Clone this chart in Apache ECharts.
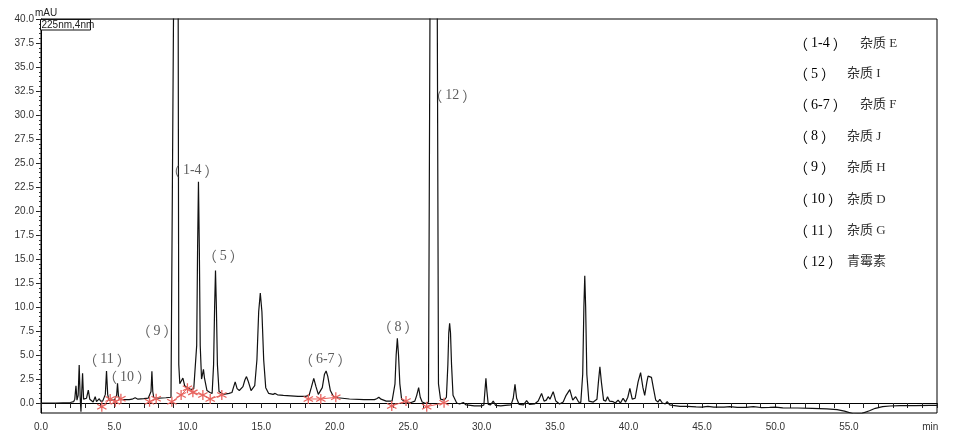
<!DOCTYPE html>
<html><head><meta charset="utf-8">
<script src="https://cdn.jsdelivr.net/npm/echarts@6/dist/echarts.min.js"></script>
<style>html,body{margin:0;padding:0;background:#fff}#c{width:954px;height:446px}</style>
</head><body><div id="c"></div>
<script>
// chromatogram trace: [time (min), signal (mAU)]
const trace = [
[0,0.0],[1.0,0.0],[2.0,0.05],[2.22,0.14],[2.3,0.4],[2.38,1.8],[2.45,0.3],[2.53,0.8],[2.6,3.95],[2.67,0.5],[2.72,-0.9],[2.77,1.0],[2.83,3.1],[2.9,0.4],[3.0,0.6],[3.1,0.5],[3.22,1.35],[3.32,0.4],[3.45,0.3],[3.55,0.1],[3.69,0.65],[3.78,0.15],[3.9,0.2],[3.97,0.45],[4.05,0.2],[4.2,0.2],
[4.3,0.25],[4.38,0.9],[4.46,3.33],[4.54,0.9],[4.62,0.3],[4.8,0.3],[5.0,0.3],
[5.08,0.3],[5.15,0.8],[5.21,2.05],[5.27,0.8],[5.35,0.35],[5.6,0.35],[6.0,0.35],[6.2,0.4],[6.41,0.55],[6.6,0.4],[7.0,0.45],[7.3,0.5],
[7.42,0.5],[7.49,1.2],[7.55,3.3],[7.61,1.2],[7.68,0.55],[8.0,0.5],[8.5,0.55],[8.85,0.6],
[8.93,0.8],[9.02,40],[9.18,200],[9.34,40],[9.38,4.0],[9.45,2.0],[9.55,2.0],[9.66,2.6],[9.78,1.8],[9.95,1.6],[10.2,1.4],[10.4,1.5],
[10.5,1.6],[10.6,6],[10.66,16],[10.72,23.05],[10.78,16],[10.84,6],[10.93,2.5],[11.0,3.0],[11.06,3.5],[11.13,2.6],[11.3,1.3],[11.5,1.1],
[11.65,1.0],[11.75,4],[11.82,10],[11.88,13.8],[11.94,10],[12.01,4],[12.12,1.2],[12.4,0.9],[12.8,1.0],
[13.0,1.1],[13.1,1.6],[13.22,2.2],[13.35,1.5],[13.5,1.3],[13.75,1.7],[13.88,2.4],[13.99,2.75],[14.1,2.3],[14.3,1.3],
[14.55,1.8],[14.7,4.5],[14.82,9.5],[14.93,11.46],[15.04,9.5],[15.16,4.5],[15.3,1.6],[15.5,1.0],[15.8,0.9],[15.94,1.0],[16.1,0.85],[16.5,0.8],[17.0,0.75],[17.5,0.7],[18.0,0.7],
[18.25,0.8],[18.4,1.6],[18.57,2.57],[18.72,1.7],[18.88,0.9],[19.0,0.9],[19.15,1.6],[19.3,3.0],[19.41,3.33],[19.52,2.8],[19.7,1.3],[19.9,0.7],[20.2,0.55],
[21.0,0.42],[22.0,0.35],[22.7,0.35],[22.85,0.45],[23.0,0.6],[23.15,0.4],[23.5,0.2],[23.9,0.2],
[24.0,0.4],[24.1,2.0],[24.18,5.0],[24.26,6.73],[24.34,5.0],[24.43,2.0],[24.55,0.4],[24.8,0.1],[25.2,0.05],[25.45,0.2],[25.58,0.8],[25.71,1.6],[25.82,0.6],[25.95,0.1],[26.2,-0.05],
[26.38,0.1],[26.48,40],[26.73,150],[26.98,40],[27.06,2],[27.2,0.4],[27.45,0.3],
[27.6,0.6],[27.7,4],[27.76,7.3],[27.82,8.3],[27.88,7.3],[27.95,4],[28.05,0.8],[28.3,0.0],[28.5,-0.1],[28.75,0.05],[28.95,-0.2],[29.5,-0.3],[30.0,-0.3],
[30.15,-0.2],[30.22,1.2],[30.29,2.57],[30.36,1.2],[30.45,-0.15],[30.6,-0.2],[30.79,0.2],[30.95,-0.25],[31.3,-0.3],[31.6,-0.25],[32.0,-0.2],
[32.15,0.5],[32.27,1.94],[32.38,0.5],[32.55,-0.15],[32.85,-0.2],[33.06,0.24],[33.25,-0.15],[33.6,-0.1],[33.85,0.2],[34.08,1.0],[34.25,0.2],[34.4,0.3],[34.53,0.66],[34.65,0.4],[34.87,1.18],[35.05,0.2],[35.3,-0.1],[35.55,0.1],[35.75,0.8],[36.0,1.4],[36.2,0.3],[36.4,0.66],[36.6,0.1],[36.75,0.05],
[36.88,3],[36.96,10],[37.02,13.26],[37.08,10],[37.16,3],[37.3,0.2],[37.6,0.1],[37.85,0.4],[37.95,2.2],[38.05,3.78],[38.15,2.2],[38.3,0.3],[38.45,0.2],[38.57,0.66],[38.7,0.2],[38.95,0.14],[39.1,0.0],[39.29,0.3],[39.45,0.0],[39.63,0.49],[39.8,0.1],
[39.95,0.6],[40.09,1.53],[40.25,0.4],[40.45,0.5],[40.65,2.2],[40.82,3.16],[40.98,1.6],[41.1,0.8],[41.25,2.2],[41.33,2.8],[41.45,2.6],[41.56,2.67],[41.7,1.5],[41.85,0.3],[42.0,0.1],[42.13,0.38],[42.3,0.0],[42.5,-0.1],[42.63,0.14],[42.8,-0.2],[43.0,-0.25],
[43.5,-0.35],[44.0,-0.35],[44.6,-0.4],[45.0,-0.42],[45.4,-0.35],[45.8,-0.42],[46.5,-0.43],[46.9,-0.37],[47.4,-0.45],[48.0,-0.45],[48.5,-0.38],[49.0,-0.47],[49.6,-0.45],[50.0,-0.42],[50.5,-0.5],[51.5,-0.52],[52.5,-0.56],[53.5,-0.62],[54.2,-0.68],[54.7,-0.85],[55.3,-1.12],[55.9,-1.08],[56.4,-0.8],[56.8,-0.55],[57.3,-0.38],[57.8,-0.31],[58.5,-0.28],[59.5,-0.27],[60.5,-0.25],[61,-0.25]
];
// integration marks (red), grouped by baseline segments
const markGroups = [
[[4.14,-0.38],[4.71,0.42],[5.06,0.14],[5.44,0.45]],
[[7.39,0.14],[7.84,0.45]],
[[8.91,0.14],[9.54,0.83],[9.97,1.53],[10.34,1.11],[11.02,0.83],[11.52,0.42],[12.31,0.83]],
[[18.2,0.42],[19.05,0.42],[20.07,0.59]],
[[23.88,-0.31],[24.85,0.21]],
[[26.26,-0.38],[27.44,0.03]]
];
// peak annotations: [time, mAU, text]
const peakLabels = [
[4.5,4.5,'（11）'],[5.85,2.7,'（10）'],[7.9,7.5,'（9）'],[10.3,24.2,'（1-4）'],
[12.4,15.3,'（5）'],[19.35,4.5,'（6-7）'],[24.3,7.9,'（8）'],[28.0,32.0,'（12）']
];
const legendCodes = ['（1-4）','（5）','（6-7）','（8）','（9）','（10）','（11）','（12）'];
const legendNames = ['杂质 E','杂质 I','杂质 F','杂质 J','杂质 H','杂质 D','杂质 G','青霉素'];
const yTickValues = [0,2.5,5,7.5,10,12.5,15,17.5,20,22.5,25,27.5,30,32.5,35,37.5,40];
const xMin = 0, xMax = 61, yMin = -1.04, yMax = 40;

const minorY = [];
for (let v = 0; v <= 40.001; v += 0.5) minorY.push(+v.toFixed(1));

const serif = "'Liberation Serif','Noto Sans CJK SC',serif";
const cjk = "'Noto Sans CJK SC',sans-serif";
const sans = "'Liberation Sans',Arial,sans-serif";
const star = 'path://M-0.6,-5 L0.6,-5 L0.6,5 L-0.6,5 Z M-4.63,-1.98 L-4.03,-3.02 L4.63,1.98 L4.03,3.02 Z M4.03,-3.02 L4.63,-1.98 L-4.03,3.02 L-4.63,1.98 Z';
const codeRich = {
  p:{fontFamily:cjk, fontSize:14, color:'#333', padding:[0,3,0,0]},
  q:{fontFamily:cjk, fontSize:14, color:'#333', padding:[0,0,0,3]},
  d:{fontFamily:serif, fontSize:14, color:'#333'}
};
function richCode(s){
  return s.replace(/（(.*?)）/, (m, inner)=>'{p|（}{d|'+inner+'}{q|）}');
}

const legendX = [860,847,860,847,847,847,847,847];
const legendY = [43.5,74,105,136.5,167.5,199.5,231,262];
const graphics = [
  {type:'text', left:35, top:8, style:{text:'mAU', font:'10px '+sans, fill:'#222'}},
  {type:'rect', shape:{x:40.5, y:19.5, width:50, height:10.5}, style:{fill:'#fff', stroke:'#111', lineWidth:1}, z:100},
  {type:'text', x:41.5, y:20, style:{text:'225nm,4nm', font:'10px '+sans, fill:'#222'}, z:101}
];
legendCodes.forEach((c,i)=>{
  graphics.push({type:'text', x:794, y:legendY[i], style:{text:richCode(c), rich:codeRich, verticalAlign:'middle'}});
  graphics.push({type:'text', x:legendX[i], y:legendY[i], style:{text:legendNames[i], font:'13px '+serif, fill:'#333', verticalAlign:'middle'}});
});

const series = [{
  type:'line', data:trace, showSymbol:false, xAxisIndex:0, yAxisIndex:0,
  lineStyle:{color:'#111', width:1.2}, clip:true, z:2, silent:true
}];
markGroups.forEach(g=>{
  series.push({type:'line', data:g, symbol:star, symbolSize:10, showSymbol:true,
    itemStyle:{color:'#e8645f'}, lineStyle:{color:'#e8645f', width:1}, z:3, silent:true});
});
series.push({type:'scatter', data:peakLabels, symbolSize:0, z:4, silent:true,
  label:{show:true, position:'inside', formatter:p=>richCode(p.data[2]), rich:codeRich}});

const chart = echarts.init(document.getElementById('c'), null, {renderer:'canvas'});
chart.setOption({
  animation:false,
  backgroundColor:'#fff',
  grid:{left:41, top:19, right:17, bottom:33, show:true, borderColor:'#000', borderWidth:1, containLabel:false},
  xAxis:{type:'value', min:xMin, max:xMax, interval:1,
    axisLine:{show:true, lineStyle:{color:'#000', width:1}},
    axisTick:{show:true, length:5, lineStyle:{color:'#222'}},
    splitLine:{show:false},
    axisLabel:{fontFamily:sans, fontSize:10, color:'#333', margin:9,
      formatter:v=> v===60 ? '{m|min}' : (v%5===0 ? v.toFixed(1) : ''),
      rich:{m:{fontFamily:sans, fontSize:10, color:'#333', padding:[0,0,0,16]}}}},
  yAxis:[{type:'value', min:yMin, max:yMax, position:'left',
    axisLine:{show:true, lineStyle:{color:'#000', width:1}},
    axisTick:{show:true, length:5, customValues:yTickValues, lineStyle:{color:'#222'}},
    splitLine:{show:false},
    axisLabel:{customValues:yTickValues, fontFamily:sans, fontSize:10, color:'#333', margin:7, formatter:v=>v.toFixed(1)}},
   {type:'value', min:yMin, max:yMax, position:'left', offset:0,
    axisLine:{show:false}, splitLine:{show:false}, axisLabel:{show:false},
    axisTick:{show:true, length:2, customValues:minorY, lineStyle:{color:'#333'}}}],
  graphic:graphics,
  series:series
});
</script></body></html>
